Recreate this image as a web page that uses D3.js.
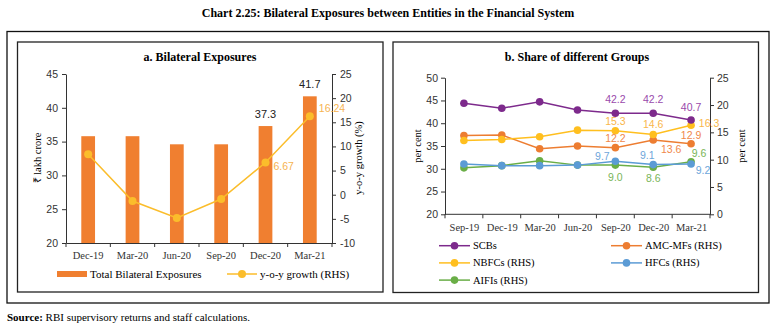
<!DOCTYPE html>
<html>
<head>
<meta charset="utf-8">
<script src="https://cdn.jsdelivr.net/npm/d3@7"></script>
<style>
  body { margin: 0; background: #fff; }
  svg { display: block; }
  .serif { font-family: "Liberation Serif", serif; }
  .num { font-family: "Liberation Sans", sans-serif; }
  .axis path, .axis line { stroke: #333; }
  .axis text { fill: #333; }
</style>
</head>
<body>
<svg></svg>
<script>
var width = 776;
var height = 328;

// a. Bilateral Exposures
var quartersA = ["Dec-19", "Mar-20", "Jun-20", "Sep-20", "Dec-20", "Mar-21"];
var exposures = [35.8, 35.8, 34.6, 34.6, 37.3, 41.7];
var growth = [8.4, -1.3, -4.8, -0.9, 6.67, 16.24];
var leftTicksA = [20, 25, 30, 35, 40, 45];
var rightTicksA = [-10, -5, 0, 5, 10, 15, 20, 25];

// b. Share of different Groups
var quartersB = ["Sep-19", "Dec-19", "Mar-20", "Jun-20", "Sep-20", "Dec-20", "Mar-21"];
var scbs = [44.4, 43.3, 44.7, 42.9, 42.2, 42.2, 40.7];
var amcMfs = [14.4, 14.5, 12.0, 12.5, 12.2, 13.6, 12.9];
var nbfcs = [13.5, 13.7, 14.2, 15.4, 15.3, 14.6, 16.3];
var hfcs = [9.2, 8.9, 8.9, 9.0, 9.7, 9.1, 9.2];
var aifis = [8.5, 8.9, 9.8, 9.0, 9.0, 8.6, 9.6];
var groupNames = ["SCBs", "AMC-MFs (RHS)", "NBFCs (RHS)", "HFCs (RHS)", "AIFIs (RHS)"];
var leftTicksB = [20, 25, 30, 35, 40, 45, 50];
var rightTicksB = [0, 5, 10, 15, 20, 25];

var barColor = "#f07f30";
var growthColor = "#fbbd2b";
var groupColors = ["#7d2a8c", "#ed7d31", "#ffbf1f", "#5b9bd5", "#6aae47"];
var labelColors = ["#9a4aab", "#f0884a", "#f9b64a", "#6ea6da", "#79b558"];

// plain hyphen for negatives, as in the source chart
var plain = d => String(d);

var svg = d3.select("svg")
    .attr("width", width)
    .attr("height", height);

svg.append("rect")
    .attr("x", 7).attr("y", 31.5)
    .attr("width", 762).attr("height", 271.5)
    .attr("fill", "none").attr("stroke", "#111").attr("stroke-width", 1.3);

svg.append("text")
    .classed("serif", true)
    .attr("x", width / 2).attr("y", 17)
    .attr("text-anchor", "middle")
    .style("font-size", "12px").style("font-weight", "bold")
    .text("Chart 2.25: Bilateral Exposures between Entities in the Financial System");

var source = svg.append("text")
    .classed("serif", true)
    .attr("x", 7).attr("y", 321)
    .style("font-size", "11px");
source.append("tspan").style("font-weight", "bold").text("Source: ");
source.append("tspan").text("RBI supervisory returns and staff calculations.");

// ---------- panel a ----------
var pa = svg.append("g");
pa.append("rect")
    .attr("x", 17.5).attr("y", 42)
    .attr("width", 365.5).attr("height", 250)
    .attr("fill", "none").attr("stroke", "#222").attr("stroke-width", 1.3);

pa.append("text")
    .classed("serif", true)
    .attr("x", 200).attr("y", 61)
    .attr("text-anchor", "middle")
    .style("font-size", "12px").style("font-weight", "bold")
    .text("a. Bilateral Exposures");

var xA = d3.scaleBand()
    .domain(quartersA)
    .range([66, 332])
    .paddingInner(0.69)
    .paddingOuter(0.345);
var yA = d3.scaleLinear().domain([20, 45]).range([243, 74]);
var yA2 = d3.scaleLinear().domain([-10, 25]).range([243, 74]);

pa.append("g")
    .classed("axis num", true)
    .attr("transform", "translate(66,0)")
    .call(d3.axisLeft(yA).tickValues(leftTicksA).tickFormat(plain).tickSize(4).tickSizeOuter(0).tickPadding(4))
    .style("font-size", "10.5px");

pa.append("g")
    .classed("axis num", true)
    .attr("transform", "translate(332,0)")
    .call(d3.axisRight(yA2).tickValues(rightTicksA).tickFormat(plain).tickSize(4).tickSizeOuter(0).tickPadding(4))
    .style("font-size", "10.5px");

var xAxisA = pa.append("g")
    .classed("axis serif", true)
    .attr("transform", "translate(0,243)")
    .call(d3.axisBottom(xA).tickSize(0).tickSizeOuter(0).tickPadding(9))
    .style("font-size", "10.5px");
xAxisA.selectAll(".edge")
    .data(d3.range(quartersA.length + 1))
  .enter()
  .append("line")
    .classed("edge", true)
    .attr("x1", i => xA.range()[0] + i * xA.step())
    .attr("x2", i => xA.range()[0] + i * xA.step())
    .attr("y1", 0).attr("y2", 4)
    .attr("stroke", "#333");

pa.selectAll(".bar")
    .data(exposures)
  .enter()
  .append("rect")
    .classed("bar", true)
    .attr("x", (d, i) => xA(quartersA[i]))
    .attr("y", d => yA(d))
    .attr("width", xA.bandwidth())
    .attr("height", d => yA(20) - yA(d))
    .attr("fill", barColor);

var cxA = i => xA(quartersA[i]) + xA.bandwidth() / 2;

pa.append("path")
    .datum(growth)
    .attr("fill", "none")
    .attr("stroke", growthColor)
    .attr("stroke-width", 1.5)
    .attr("d", d3.line().x((d, i) => cxA(i)).y(d => yA2(d)));

pa.selectAll(".gdot")
    .data(growth)
  .enter()
  .append("circle")
    .classed("gdot", true)
    .attr("cx", (d, i) => cxA(i))
    .attr("cy", d => yA2(d))
    .attr("r", 4)
    .attr("fill", growthColor);

// bar labels on last two bars
pa.selectAll(".blabel")
    .data(exposures.slice(4))
  .enter()
  .append("text")
    .classed("blabel num", true)
    .attr("x", (d, i) => cxA(i + 4))
    .attr("y", d => yA(d) - 8)
    .attr("text-anchor", "middle")
    .style("font-size", "11px")
    .attr("fill", "#222")
    .text(d => d.toFixed(1));

var growthLabelShift = [{ dx: 8, dy: 7 }, { dx: 9, dy: -4 }];
pa.selectAll(".glabel")
    .data(growth.slice(4))
  .enter()
  .append("text")
    .classed("glabel num", true)
    .attr("x", (d, i) => cxA(i + 4) + growthLabelShift[i].dx)
    .attr("y", (d, i) => yA2(d) + growthLabelShift[i].dy)
    .style("font-size", "10.5px")
    .attr("fill", "#f6b350")
    .text(d => d.toFixed(2));

pa.append("text")
    .classed("serif", true)
    .attr("transform", "translate(41,158) rotate(-90)")
    .attr("text-anchor", "middle")
    .style("font-size", "10.5px")
    .text("₹ lakh crore");

pa.append("text")
    .classed("serif", true)
    .attr("transform", "translate(362,158) rotate(-90)")
    .attr("text-anchor", "middle")
    .style("font-size", "10.5px")
    .text("y-o-y growth (%)");

// legend a
var legA = pa.append("g").attr("transform", "translate(0,274)");
legA.append("rect")
    .attr("x", 57).attr("y", -3)
    .attr("width", 30).attr("height", 6)
    .attr("fill", barColor);
legA.append("text")
    .classed("serif", true)
    .attr("x", 90).attr("y", 3.5)
    .style("font-size", "11px")
    .text("Total Bilateral Exposures");
legA.append("line")
    .attr("x1", 227).attr("x2", 257)
    .attr("stroke", growthColor).attr("stroke-width", 1.5);
legA.append("circle")
    .attr("cx", 242).attr("r", 4)
    .attr("fill", growthColor);
legA.append("text")
    .classed("serif", true)
    .attr("x", 260).attr("y", 3.5)
    .style("font-size", "11px")
    .text("y-o-y growth (RHS)");

// ---------- panel b ----------
var pb = svg.append("g");
pb.append("rect")
    .attr("x", 393).attr("y", 42)
    .attr("width", 365.5).attr("height", 250.5)
    .attr("fill", "none").attr("stroke", "#222").attr("stroke-width", 1.3);

pb.append("text")
    .classed("serif", true)
    .attr("x", 577).attr("y", 61)
    .attr("text-anchor", "middle")
    .style("font-size", "12px").style("font-weight", "bold")
    .text("b. Share of different Groups");

var xB = d3.scalePoint()
    .domain(quartersB)
    .range([445, 710])
    .padding(0.5);
var yB = d3.scaleLinear().domain([20, 50]).range([214.3, 77.7]);
var yB2 = d3.scaleLinear().domain([0, 25]).range([214.3, 77.7]);

pb.append("g")
    .classed("axis num", true)
    .attr("transform", "translate(445,0)")
    .call(d3.axisLeft(yB).tickValues(leftTicksB).tickFormat(plain).tickSize(4).tickSizeOuter(0).tickPadding(3))
    .style("font-size", "10.5px");

pb.append("g")
    .classed("axis num", true)
    .attr("transform", "translate(710,0)")
    .call(d3.axisRight(yB2).tickValues(rightTicksB).tickFormat(plain).tickSize(4).tickSizeOuter(0).tickPadding(3))
    .style("font-size", "10.5px");

var xAxisB = pb.append("g")
    .classed("axis serif", true)
    .attr("transform", "translate(0,214.3)")
    .call(d3.axisBottom(xB).tickSize(0).tickSizeOuter(0).tickPadding(9))
    .style("font-size", "10.5px");
xAxisB.select(".domain").attr("d", "M445,0H710");
xAxisB.selectAll(".edge")
    .data(d3.range(quartersB.length + 1))
  .enter()
  .append("line")
    .classed("edge", true)
    .attr("x1", i => xB.range()[0] + i * xB.step())
    .attr("x2", i => xB.range()[0] + i * xB.step())
    .attr("y1", 0).attr("y2", 4)
    .attr("stroke", "#333");

var groups = [
  { name: groupNames[0], values: scbs, y: yB },
  { name: groupNames[1], values: amcMfs, y: yB2 },
  { name: groupNames[2], values: nbfcs, y: yB2 },
  { name: groupNames[3], values: hfcs, y: yB2 },
  { name: groupNames[4], values: aifis, y: yB2 }
];

// draw order: green, blue under; purple on top
var drawOrder = [4, 3, 1, 2, 0];
drawOrder.forEach(function(gi) {
  var g = groups[gi];
  var series = pb.append("g");
  series.append("path")
      .datum(g.values)
      .attr("fill", "none")
      .attr("stroke", groupColors[gi])
      .attr("stroke-width", 1.5)
      .attr("d", d3.line().x((d, i) => xB(quartersB[i])).y(d => g.y(d)));
  series.selectAll("circle")
      .data(g.values)
    .enter()
    .append("circle")
      .attr("cx", (d, i) => xB(quartersB[i]))
      .attr("cy", d => g.y(d))
      .attr("r", 3.8)
      .attr("fill", groupColors[gi]);
});

// labels on last three quarters: offsets per group
var labelShift = [
  [{ dx: 0, dy: -10 }, { dx: 0, dy: -10 }, { dx: 0, dy: -9 }],
  [{ dx: 0, dy: -6 }, { dx: 18, dy: 13 }, { dx: 0, dy: -5 }],
  [{ dx: 0, dy: -6 }, { dx: 0, dy: -7 }, { dx: 18, dy: 2 }],
  [{ dx: -13, dy: -1 }, { dx: -6, dy: -6 }, { dx: 12, dy: 10 }],
  [{ dx: 0, dy: 16 }, { dx: 0, dy: 15 }, { dx: 8, dy: -5 }]
];
groups.forEach(function(g, gi) {
  pb.selectAll(".lab" + gi)
      .data(g.values.slice(4))
    .enter()
    .append("text")
      .classed("num", true)
      .attr("x", (d, i) => xB(quartersB[i + 4]) + labelShift[gi][i].dx)
      .attr("y", (d, i) => g.y(d) + labelShift[gi][i].dy)
      .attr("text-anchor", "middle")
      .style("font-size", "10.5px")
      .attr("fill", labelColors[gi])
      .text(d => d.toFixed(1));
});

pb.append("text")
    .classed("serif", true)
    .attr("transform", "translate(421,146) rotate(-90)")
    .attr("text-anchor", "middle")
    .style("font-size", "10.5px")
    .text("per cent");

pb.append("text")
    .classed("serif", true)
    .attr("transform", "translate(745,146) rotate(-90)")
    .attr("text-anchor", "middle")
    .style("font-size", "10.5px")
    .text("per cent");

// legend b, two columns
var legB = pb.selectAll(".legB")
    .data(groups)
  .enter()
  .append("g")
    .classed("legB", true)
    .attr("transform", (d, i) => `translate(${i % 2 === 0 ? 439 : 611},${245.7 + Math.floor(i / 2) * 17.2})`);
legB.append("line")
    .attr("x1", 0).attr("x2", 31)
    .attr("stroke", (d, i) => groupColors[i]).attr("stroke-width", 1.5);
legB.append("circle")
    .attr("cx", 15.5).attr("r", 3.8)
    .attr("fill", (d, i) => groupColors[i]);
legB.append("text")
    .classed("serif", true)
    .attr("x", 34).attr("y", 3.5)
    .style("font-size", "10.5px")
    .text(d => d.name);
</script>
</body>
</html>
